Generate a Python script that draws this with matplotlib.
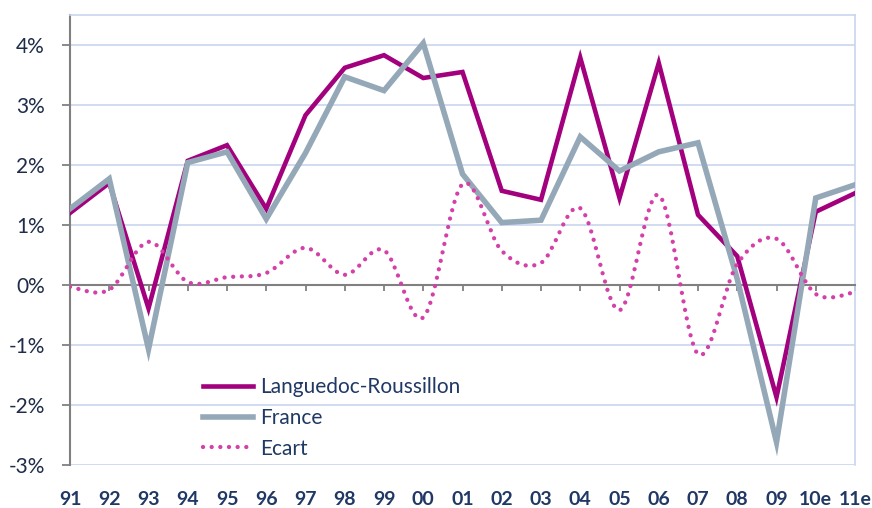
import matplotlib.pyplot as plt
from matplotlib.path import Path
from matplotlib.patches import PathPatch
from matplotlib.lines import Line2D

years = ["91", "92", "93", "94", "95", "96", "97", "98", "99", "00",
         "01", "02", "03", "04", "05", "06", "07", "08", "09", "10e", "11e"]
languedoc = [1.20, 1.70, -0.39, 2.07, 2.33, 1.27, 2.83, 3.62, 3.83, 3.45,
             3.55, 1.57, 1.42, 3.79, 1.45, 3.70, 1.17, 0.48, -1.87, 1.22, 1.53]
france = [1.27, 1.77, -1.07, 2.04, 2.22, 1.10, 2.20, 3.47, 3.24, 4.03,
          1.85, 1.04, 1.08, 2.47, 1.90, 2.22, 2.37, 0.10, -2.62, 1.45, 1.67]
ecart = [-0.03, -0.08, 0.72, 0.05, 0.13, 0.20, 0.62, 0.17, 0.58, -0.54,
         1.68, 0.57, 0.37, 1.28, -0.42, 1.50, -1.15, 0.35, 0.77, -0.15, -0.12]
yticks = [-3, -2, -1, 0, 1, 2, 3, 4]

c_lr = "#A3007E"
c_fr = "#94A8B8"
c_ec = "#D43FA8"
c_grid = "#C9D5EE"
c_text = "#1F2D4A"
c_xlab = "#1F3864"

plt.rcParams["font.family"] = ["Lato", "DejaVu Sans"]

fig = plt.figure(figsize=(8.72, 5.08), dpi=100)
ax = fig.add_axes([70 / 872, 1 - 465 / 508, 785 / 872, 450 / 508])

x = list(range(len(years)))
ax.plot(x, languedoc, color=c_lr, lw=3.3, solid_joinstyle="miter", zorder=3)
ax.plot(x, france, color=c_fr, lw=4.0, solid_joinstyle="miter", zorder=4)

# smoothed dotted line for the gap (Excel-style bezier smoothing)
verts = [(x[0], ecart[0])]
codes = [Path.MOVETO]
n = len(x)
for i in range(n - 1):
    p0 = (x[max(i - 1, 0)], ecart[max(i - 1, 0)])
    p1 = (x[i], ecart[i])
    p2 = (x[i + 1], ecart[i + 1])
    p3 = (x[min(i + 2, n - 1)], ecart[min(i + 2, n - 1)])
    c1 = (p1[0] + (p2[0] - p0[0]) / 6, p1[1] + (p2[1] - p0[1]) / 6)
    c2 = (p2[0] - (p3[0] - p1[0]) / 6, p2[1] - (p3[1] - p1[1]) / 6)
    verts += [c1, c2, p2]
    codes += [Path.CURVE4] * 3
dots = (0, (0.01, 2.0))
patch = PathPatch(Path(verts, codes), fill=False, edgecolor=c_ec, lw=3.1,
                  linestyle=dots, capstyle="round", zorder=5)
ax.add_patch(patch)

ax.set_xlim(0, 20)
ax.set_ylim(-3, 4.5)
ax.set_yticks(yticks)
ax.set_yticklabels([f"{v}%" for v in yticks], color=c_text, fontsize=15)
ax.yaxis.grid(True, color=c_grid, lw=1.2)
ax.set_axisbelow(True)

ax.spines["left"].set_color("#808080")
ax.spines["left"].set_linewidth(1.5)
for s in ["top", "right"]:
    ax.spines[s].set_color(c_grid)
    ax.spines[s].set_linewidth(1.2)
ax.spines["bottom"].set_position(("data", 0))
ax.spines["bottom"].set_color("#808080")
ax.spines["bottom"].set_linewidth(1.5)
ax.tick_params(axis="y", direction="out", length=6, width=1.3, color="#808080", pad=12)
ax.set_xticks(x)
ax.tick_params(axis="x", direction="out", length=4.5, width=1.3, color="#808080",
               labelbottom=False)

sec = ax.secondary_xaxis("bottom")
sec.set_xticks(x)
sec.set_xticklabels(years, fontsize=14, fontweight="bold", color=c_xlab)
sec.tick_params(length=0, pad=19)
sec.spines["bottom"].set_visible(False)

handles = [Line2D([], [], color=c_lr, lw=3.3),
           Line2D([], [], color=c_fr, lw=4.0),
           Line2D([], [], color=c_ec, lw=3.1, linestyle=dots,
                  dash_capstyle="round")]
leg = ax.legend(handles, ["Languedoc-Roussillon", "France", "Ecart"],
                loc="upper left", bbox_to_anchor=(203 / 872, 1 - 377 / 508),
                bbox_transform=fig.transFigure, frameon=False, fontsize=15,
                handlelength=2.4, handletextpad=0.35, labelspacing=0.52,
                borderpad=0, borderaxespad=0)
for t in leg.get_texts():
    t.set_color(c_xlab)

fig.savefig("out.png", dpi=100)
